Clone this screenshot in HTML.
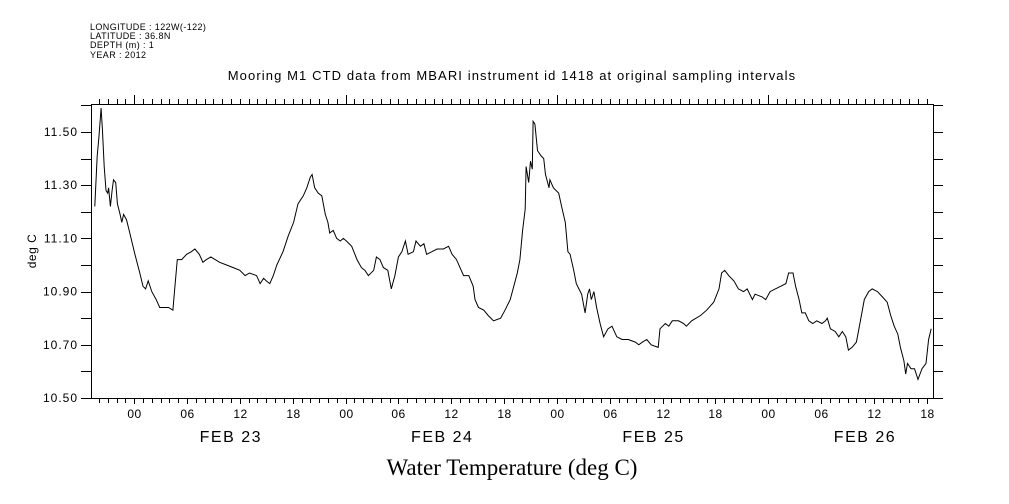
<!DOCTYPE html>
<html><head><meta charset="utf-8"><style>
html,body{margin:0;padding:0;background:#fff;}
svg{display:block;}
text{font-family:"Liberation Sans",sans-serif;fill:#000;}
</style></head><body>
<svg id="chart" width="1009" height="504" viewBox="0 0 1009 504">
<g font-size="9" letter-spacing="0.4">
<text x="90" y="30">LONGITUDE : 122W(-122)</text>
<text x="90" y="39">LATITUDE : 36.8N</text>
<text x="90" y="48">DEPTH (m) : 1</text>
<text x="90" y="58">YEAR : 2012</text>
</g>
<text x="512" y="80" font-size="13" letter-spacing="1.1" text-anchor="middle">Mooring M1 CTD data from MBARI instrument id 1418 at original sampling intervals</text>
<text x="0" y="0" font-size="12" letter-spacing="0.5" text-anchor="middle" transform="translate(36,251) rotate(-90)">deg C</text>
<text x="512" y="475" font-size="23" text-anchor="middle" style="font-family:'Liberation Serif',serif">Water Temperature (deg C)</text>
<g id="axes"></g>
<path id="series" fill="none" stroke="#000" stroke-width="1"/>
</svg>
<script>
const hours=[-4.47,-4.2,-4.0,-3.75,-3.6,-3.4,-3.2,-3.0,-2.9,-2.7,-2.5,-2.35,-2.1,-1.9,-1.6,-1.4,-1.2,-0.87,-0.5,0.08,0.64,1.0,1.3,1.6,2.0,2.5,2.9,3.3,3.9,4.4,4.6,4.9,5.4,5.95,6.5,6.9,7.4,7.8,8.2,8.7,9.2,9.7,10.5,11.25,12.0,12.6,13.1,13.9,14.3,14.7,15.0,15.4,15.8,16.2,16.9,17.5,18.1,18.6,19.2,19.6,20.0,20.2,20.5,20.9,21.3,21.7,22.0,22.2,22.6,23.0,23.4,23.75,24.1,24.7,25.3,25.8,26.2,26.6,27.2,27.5,27.9,28.3,28.8,29.2,29.6,30.0,30.4,30.8,31.1,31.7,32.0,32.5,32.9,33.2,33.8,34.4,35.1,35.7,36.1,36.6,37.0,37.4,38.0,38.5,38.7,39.1,39.7,40.2,40.8,41.6,42.1,42.7,43.1,43.5,43.8,44.1,44.4,44.5,44.8,45.0,45.2,45.3,45.5,45.8,46.2,46.5,46.7,47.1,47.2,47.6,48.2,48.6,48.95,49.25,49.5,49.9,50.2,50.5,50.8,51.2,51.5,51.7,51.9,52.2,52.5,52.9,53.3,53.8,54.25,54.8,55.4,56.1,56.9,57.3,57.7,58.2,58.7,59.5,59.7,60.3,60.7,61.1,61.8,62.4,62.7,63.3,64.3,65.0,65.8,66.4,66.7,67.05,67.5,68.1,68.6,69.2,69.6,70.2,70.5,71.3,71.7,72.2,72.8,73.4,74.0,74.3,74.8,75.1,75.5,75.8,76.2,76.6,77.05,77.5,78.1,78.5,78.7,79.05,79.6,80.0,80.4,80.8,81.1,81.5,82.0,82.4,82.9,83.4,83.8,84.4,84.95,85.5,85.9,86.3,86.7,87.0,87.4,87.6,87.8,88.2,88.6,89.0,89.45,89.9,90.2,90.5];
const temps=[11.22,11.41,11.48,11.59,11.51,11.37,11.28,11.27,11.29,11.22,11.28,11.32,11.31,11.23,11.19,11.16,11.19,11.17,11.12,11.04,10.97,10.92,10.91,10.94,10.90,10.87,10.84,10.84,10.84,10.83,10.91,11.02,11.02,11.04,11.05,11.06,11.04,11.01,11.02,11.03,11.02,11.01,11.00,10.99,10.98,10.96,10.97,10.96,10.93,10.95,10.94,10.93,10.96,11.00,11.05,11.11,11.16,11.23,11.26,11.29,11.33,11.34,11.29,11.27,11.26,11.19,11.16,11.12,11.13,11.10,11.09,11.10,11.09,11.07,11.02,10.99,10.98,10.96,10.98,11.03,11.02,10.99,10.98,10.91,10.96,11.03,11.05,11.09,11.04,11.05,11.09,11.07,11.08,11.04,11.05,11.06,11.06,11.07,11.04,11.02,10.99,10.96,10.96,10.92,10.87,10.84,10.83,10.81,10.79,10.80,10.83,10.87,10.92,10.97,11.02,11.13,11.21,11.37,11.31,11.39,11.36,11.54,11.53,11.43,11.41,11.40,11.34,11.29,11.32,11.29,11.27,11.21,11.16,11.05,11.04,10.98,10.93,10.91,10.89,10.82,10.89,10.91,10.87,10.90,10.84,10.78,10.73,10.76,10.77,10.73,10.72,10.72,10.71,10.70,10.71,10.72,10.70,10.69,10.76,10.78,10.77,10.79,10.79,10.78,10.77,10.79,10.81,10.83,10.86,10.91,10.97,10.98,10.96,10.94,10.91,10.90,10.91,10.87,10.89,10.88,10.87,10.90,10.91,10.92,10.93,10.97,10.97,10.92,10.87,10.82,10.82,10.79,10.78,10.79,10.78,10.79,10.80,10.76,10.75,10.73,10.75,10.73,10.68,10.69,10.71,10.78,10.87,10.90,10.91,10.90,10.88,10.86,10.81,10.77,10.74,10.69,10.64,10.59,10.63,10.61,10.61,10.57,10.61,10.63,10.72,10.76];
const yTickLabels=["10.50","10.70","10.90","11.10","11.30","11.50"];
const hourLabels=["00","06","12","18"];
const dateLabels=["FEB 23","FEB 24","FEB 25","FEB 26"];

const L=91,R=933,T=104,B=398,H0=-4.9,H1=90.7,V0=10.5,V1=11.605;
const xS=h=>L+(h-H0)/(H1-H0)*(R-L);
const yS=v=>B-(v-V0)/(V1-V0)*(B-T);
const NS="http://www.w3.org/2000/svg";
const ax=document.getElementById('axes');
function mk(tag,attrs,txt){const e=document.createElementNS(NS,tag);for(const k in attrs)e.setAttribute(k,attrs[k]);if(txt!==undefined)e.textContent=txt;ax.appendChild(e);return e;}
const frame=mk('rect',{x:L+0.5,y:T+0.5,width:R-L,height:B-T,fill:'none',stroke:'#000','stroke-width':1});


for(let i=0;i<=11;i++){const v=10.5+i*0.1;if(v>V1)break;const y=Math.round(yS(v))+0.5;
 const t1=mk('line',{x1:L-10,x2:L,y1:y,y2:y,stroke:'#000'});
 
 
 const t2=mk('line',{x1:R,x2:R+10,y1:y,y2:y,stroke:'#000'});
 
 
}
yTickLabels.forEach(s=>{const t=mk('text',{x:L-13,y:yS(parseFloat(s))+4,'font-size':12,'letter-spacing':1,'text-anchor':'end'},s);
 
 });
for(let h=-4;h<=90;h++){const x=Math.round(xS(h))+0.5;const major=(h%24===0);const lab=(h%6===0);
 const a=mk('line',{x1:x,x2:x,y1:T-(major?9:5),y2:T,stroke:'#000'});
 
 
 const b=mk('line',{x1:x,x2:x,y1:B,y2:B+(lab?6:5),stroke:'#000'});
 
 
 if(lab){const t=mk('text',{x:x,y:B+20,'font-size':12,'letter-spacing':0.5,'text-anchor':'middle'},hourLabels[((h%24)+24)%24/6]);
  
  }
}
dateLabels.forEach((s,i)=>{const t=mk('text',{x:xS(i*24+12)-9,y:B+44,'font-size':16,'letter-spacing':1.5,'text-anchor':'middle'},s);
 
 });
document.getElementById('series').setAttribute('d',hours.map((h,i)=>(i?'L':'M')+xS(h).toFixed(1)+' '+yS(temps[i]).toFixed(1)).join(' '));
</script>
</body></html>
